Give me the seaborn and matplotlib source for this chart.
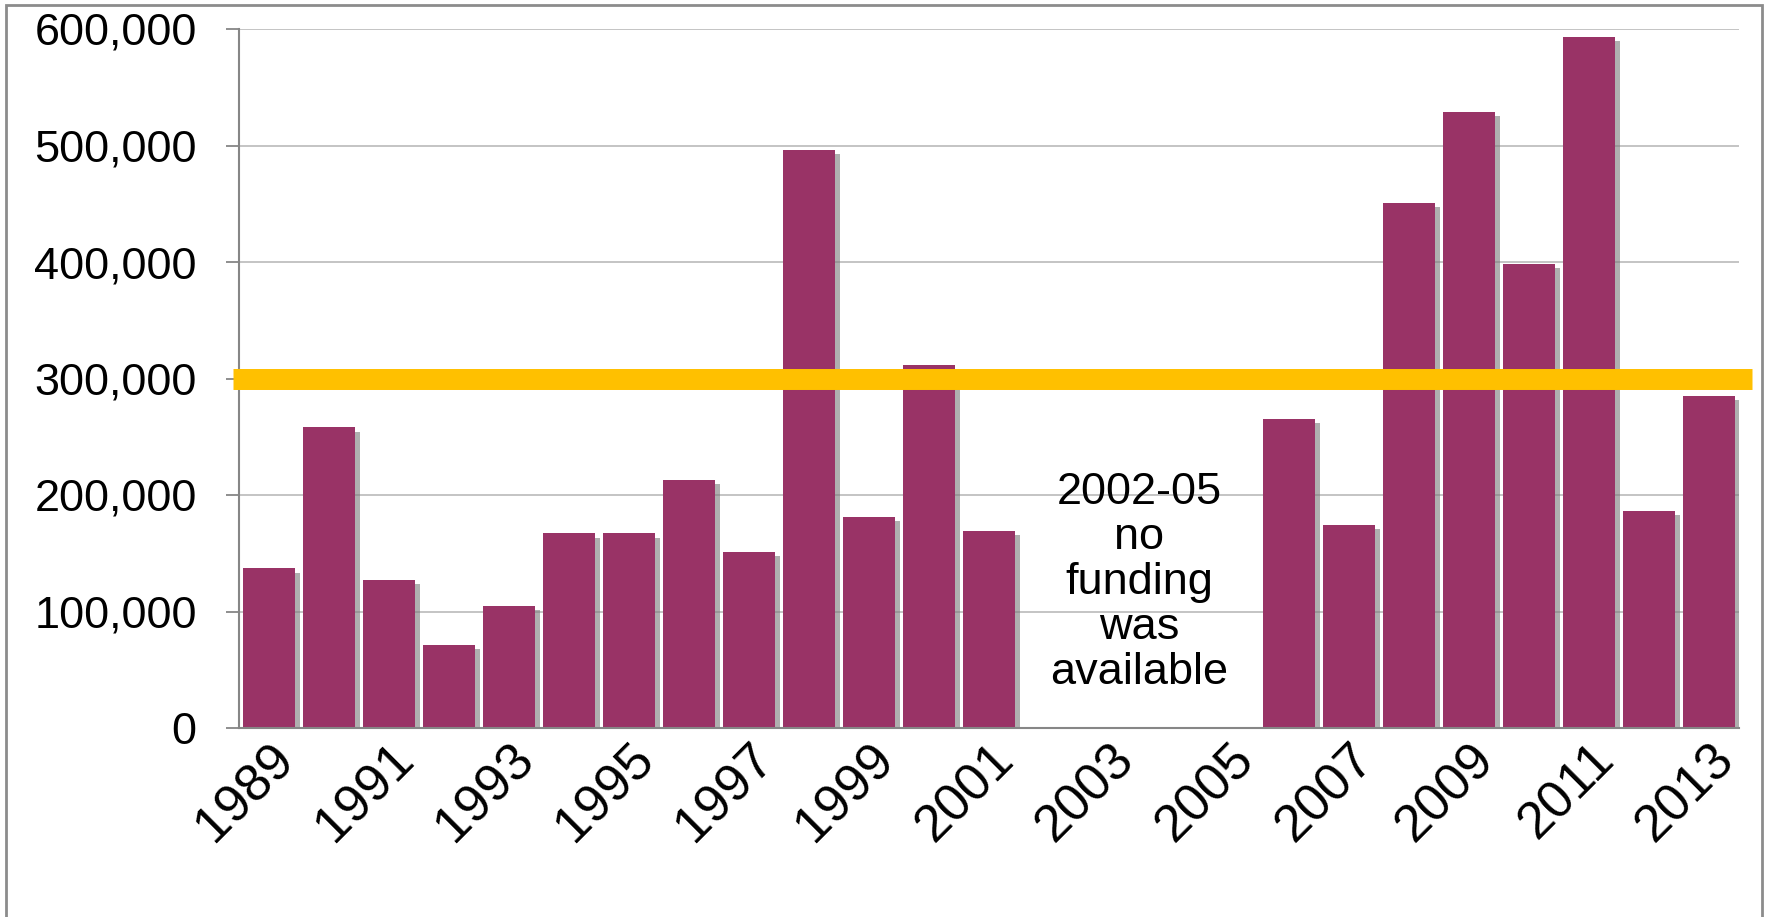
import numpy as np
import pandas as pd
import matplotlib
matplotlib.use('Agg')
import matplotlib.pyplot as plt
import matplotlib.patheffects as pe
from matplotlib.patches import Rectangle
import seaborn as sns

years = [str(y) for y in range(1989, 2014)]
funding = [137000, 258000, 127000, 71000, 105000, 167000, 167000, 213000, 151000, 496000,
           181000, 312000, 169000, 0, 0, 0, 0, 265000, 174000, 451000,
           529000, 398000, 593000, 186000, 285000]
target = 300000
note = "2002-05\nno\nfunding\nwas\navailable"

sns.set_style('white')
plt.rcParams['font.family'] = ['Liberation Sans', 'DejaVu Sans']
plt.rcParams['text.color'] = 'black'
plt.rcParams['xtick.labelcolor'] = 'black'
plt.rcParams['ytick.labelcolor'] = 'black'

df = pd.DataFrame({'year': years, 'funding': funding})

fig = plt.figure(figsize=(17.71, 9.17), dpi=100)
ax = fig.add_axes([239 / 1771, 1 - 728 / 917, 1500 / 1771, (728 - 29) / 917])

sns.barplot(data=df, x='year', y='funding', color='#993366', saturation=1,
            width=0.88, linewidth=0, ax=ax)
# soft drop shadow like the Excel original
for p in ax.patches:
    p.set_path_effects([pe.SimplePatchShadow(offset=(3.5, -3), shadow_rgbFace='#7a7a7a', alpha=0.6),
                        pe.Normal()])

ax.set_xlim(-0.5, len(years) - 0.5)
ax.set_ylim(0, 600000)
ax.set_yticks(np.arange(0, 600001, 100000))
ax.set_yticklabels([f"{v:,}" for v in range(0, 600001, 100000)], fontsize=32.5, color='black')
ax.yaxis.grid(True, color='#BFBFBF', linewidth=1.3)
ax.set_axisbelow(True)

ax.set_xticks(range(0, len(years), 2))
ax.set_xticklabels(years[::2], rotation=45, ha='right', rotation_mode='anchor',
                   fontsize=37.5, color='black')
ax.set_xticks(np.arange(-0.5, len(years)), minor=True)
ax.tick_params(axis='x', which='major', length=0, pad=5)
ax.tick_params(axis='x', which='minor', length=10, width=1.3, color='#868686', direction='out')
ax.tick_params(axis='y', length=9.5, width=1.3, color='#868686', pad=21, left=True)
ax.set_xlabel('')
ax.set_ylabel('')

for s in ['top', 'right']:
    ax.spines[s].set_visible(False)
for s in ['left', 'bottom']:
    ax.spines[s].set_color('#868686')
    ax.spines[s].set_linewidth(1.5)

ax.axhline(target, xmin=-0.004, xmax=1.009, color='#FFC000', linewidth=15.1,
           solid_capstyle='butt', clip_on=False, zorder=5)

ax.text(14.5, 125000, note, ha='center', va='center', fontsize=32.5,
        linespacing=1.12, color='black')

fig.add_artist(Rectangle((6 / 1771, -0.01), (1762 - 6) / 1771, 1.01 - 5 / 917,
                         transform=fig.transFigure, fill=False, edgecolor='#8C8C8C', linewidth=2))

fig.savefig('out.png', dpi=100)
plt.close(fig)
